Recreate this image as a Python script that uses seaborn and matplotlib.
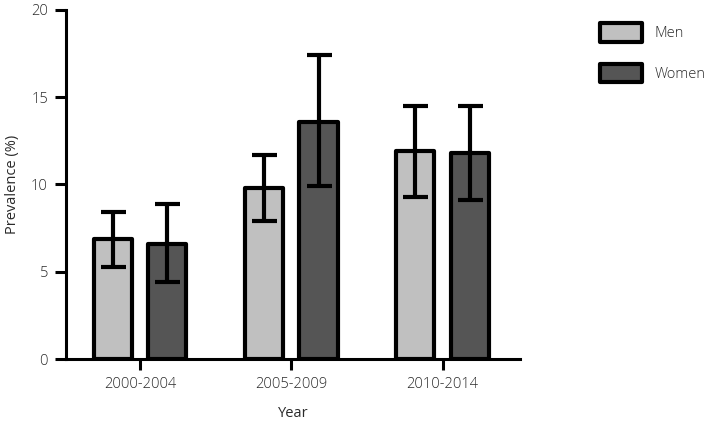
import matplotlib
matplotlib.use("Agg")
import matplotlib.pyplot as plt
import seaborn as sns
import pandas as pd
import numpy as np

years = ["2000-2004", "2005-2009", "2010-2014"]
groups = ["Men", "Women"]
men_prev = [6.9, 9.8, 11.9]
women_prev = [6.6, 13.6, 11.8]
men_low = [5.3, 7.9, 9.3]
men_high = [8.4, 11.7, 14.5]
women_low = [4.4, 9.9, 9.1]
women_high = [8.9, 17.4, 14.5]

df = pd.DataFrame({
    "Year": years * 2,
    "Sex": ["Men"] * 3 + ["Women"] * 3,
    "Prevalence": men_prev + women_prev,
})

sns.set_style("ticks")
plt.rcParams["font.family"] = ["Open Sans", "DejaVu Sans"]
plt.rcParams["font.weight"] = "light"

text_color = "#2a2a2a"
palette = {"Men": "#c0c0c0", "Women": "#555555"}
lw = 3.0

fig = plt.figure(figsize=(7.09, 4.26), dpi=100)
ax = fig.add_axes([0.093, 0.157, 0.64, 0.82])

sns.barplot(data=df, x="Year", y="Prevalence", hue="Sex", hue_order=groups,
            order=years, palette=palette, width=0.72, gap=0.3,
            edgecolor="black", linewidth=lw, errorbar=None, ax=ax,
            legend=True, saturation=1)

for p in ax.patches:
    p.set_joinstyle("round")

lows = {"Men": men_low, "Women": women_low}
highs = {"Men": men_high, "Women": women_high}
vals = {"Men": men_prev, "Women": women_prev}
for cont, g in zip(ax.containers, groups):
    xs = [b.get_x() + b.get_width() / 2 for b in cont]
    v = np.array(vals[g])
    yerr = [v - np.array(lows[g]), np.array(highs[g]) - v]
    ax.errorbar(xs, v, yerr=yerr, fmt="none", ecolor="black",
                elinewidth=lw, capsize=9, capthick=lw, zorder=5)

ax.set_xlim(-0.49, 2.51)
ax.set_ylim(0, 20)
ax.set_yticks([0, 5, 10, 15, 20])
ax.set_xlabel("Year", color=text_color, fontsize=10.5, labelpad=10)
ax.set_ylabel("Prevalence (%)", color=text_color, fontsize=10.5, labelpad=8)

sns.despine(ax=ax)
for s in ["left", "bottom"]:
    ax.spines[s].set_linewidth(2.2)
    ax.spines[s].set_color("black")
ax.tick_params(axis="both", length=8, width=2.2, color="black",
               labelcolor=text_color, labelsize=10.5, pad=5)

leg = ax.legend(loc="upper left", bbox_to_anchor=(1.176, 0.962), frameon=False,
                handlelength=2.9, handleheight=1.6, labelspacing=1.5,
                handletextpad=0.85, fontsize=10.5, borderaxespad=0, borderpad=0)
for t in leg.get_texts():
    t.set_color(text_color)
for h in leg.legend_handles:
    h.set_linewidth(lw)
    h.set_edgecolor("black")
    h.set_joinstyle("round")

fig.savefig("out.png", dpi=100)
